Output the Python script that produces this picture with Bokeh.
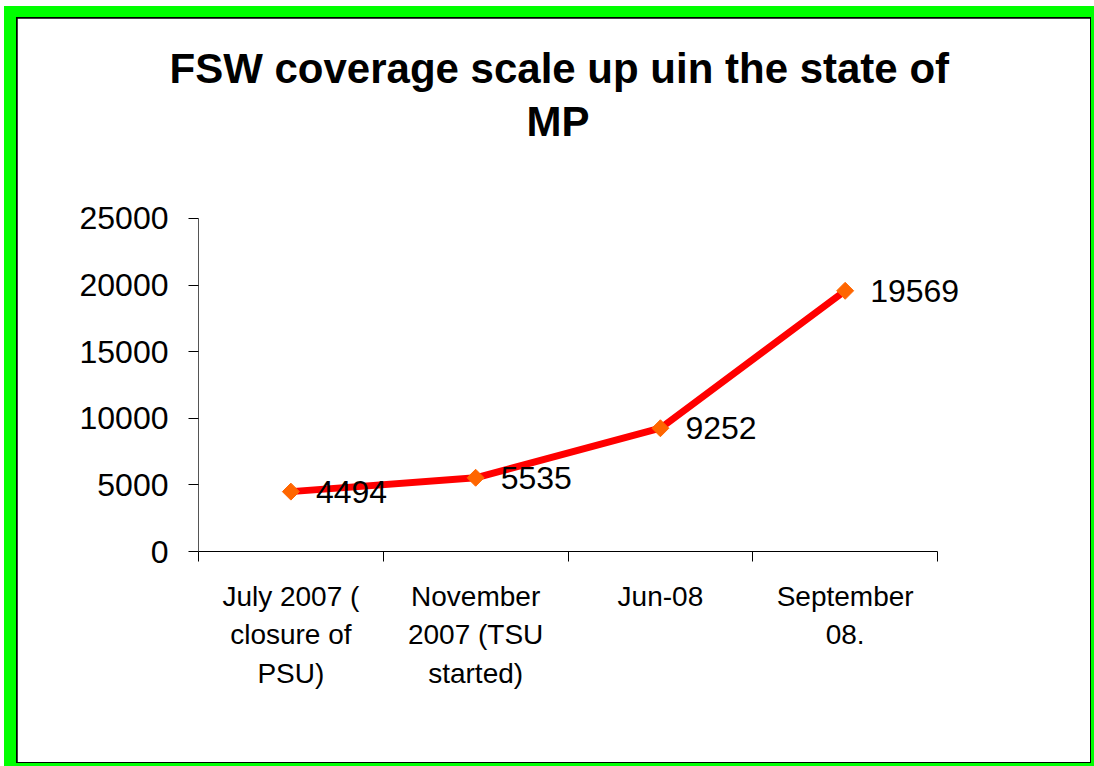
import math
from bokeh.plotting import figure
from bokeh.layouts import column
from bokeh.models import FixedTicker, NumeralTickFormatter, Range1d, ColumnDataSource, LabelSet, Title
from bokeh.core.properties import value
from bokeh.embed import file_html
from bokeh.resources import INLINE

# ---- data ----
categories = ["July 2007 (\nclosure of\nPSU)", "November\n2007 (TSU\nstarted)", "Jun-08", "September\n08."]
coverage = [4494, 5535, 9252, 19569]
y_ticks = [0, 5000, 10000, 15000, 20000, 25000]
y_max = 25000
title_line1 = "FSW coverage scale up uin the state of"
title_line2 = "MP"

FONT = "Liberation Sans"

xs = [i + 0.5 for i in range(len(categories))]
src = ColumnDataSource(dict(x=xs, y=coverage, lab=[str(v) for v in coverage]))

W, H = 1073, 744
p = figure(width=W, height=H, output_backend="svg", toolbar_location=None,
           x_range=Range1d(0, 4.2), y_range=Range1d(0, 30400),
           min_border_left=181, min_border_right=116, min_border_top=128, min_border_bottom=211)
p.background_fill_color = "white"
p.border_fill_color = "white"
p.outline_line_color = "white"
p.outline_line_width = 2
p.grid.visible = False
p.title.visible = False

t2 = Title(text=title_line2, align="left", text_font=FONT, text_font_style="bold",
           text_font_size="42px", text_color="black", standoff=4, offset=328)
t1 = Title(text=title_line1, align="left", text_font=FONT, text_font_style="bold",
           text_font_size="42px", text_color="black", standoff=4, offset=-29)
p.add_layout(t2, "above")
p.add_layout(t1, "above")

# x axis
xa = p.xaxis[0]
xa.bounds = (0, len(categories))
xa.ticker = FixedTicker(ticks=xs, minor_ticks=list(range(len(categories) + 1)))
xa.major_label_overrides = {x: c for x, c in zip(xs, categories)}
xa.major_tick_out = 0
xa.major_tick_in = 0
xa.minor_tick_out = 10
xa.minor_tick_in = 0
xa.minor_tick_line_color = "black"
xa.axis_line_color = "black"
xa.major_label_text_font = FONT
xa.major_label_text_font_size = "28px"
xa.major_label_text_color = "black"
xa.major_label_text_line_height = 1.25
xa.major_label_standoff = 19

# y axis
ya = p.yaxis[0]
ya.bounds = (0, y_max)
ya.ticker = FixedTicker(ticks=y_ticks)
ya.formatter = NumeralTickFormatter(format="0")
ya.major_tick_out = 10
ya.major_tick_in = 0
ya.minor_tick_line_color = None
ya.axis_line_color = "#555555"
ya.major_tick_line_color = "black"
ya.major_label_text_font = FONT
ya.major_label_text_font_size = "32px"
ya.major_label_text_color = "black"
ya.major_label_standoff = 20

p.line("x", "y", source=src, line_color="#FF0000", line_width=7, line_join="round")
p.scatter("x", "y", source=src, marker="square", angle=math.pi / 4, size=12,
          fill_color="#FF6600", line_color="#FF6600")
labels = LabelSet(x="x", y="y", text="lab", source=src, x_offset=25, y_offset=0,
                  text_font=value(FONT), text_font_size=value("32px"), text_baseline="middle",
                  text_align="left", text_color="black")
p.add_layout(labels)

inner = column(p, styles={"background-color": "black", "padding": "1px"})
green = column(inner, styles={"background-color": "#00FF00", "padding": "11px 3px 3px 12px"})
outer = column(green, styles={"background-color": "white", "padding": "6px 0px 0px 4px"})

open("out.html", "w").write(file_html(outer, INLINE))
